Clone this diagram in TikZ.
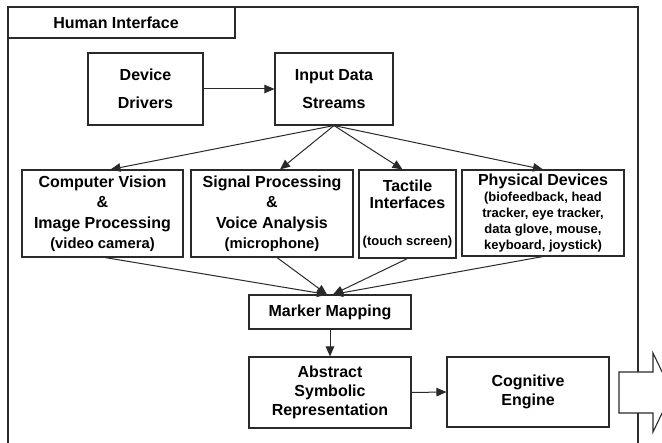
\documentclass[tikz,border=0pt]{standalone}
\usepackage{fontspec}
\setmainfont{Liberation Sans}
\usetikzlibrary{arrows.meta}
\definecolor{ink}{HTML}{2A2A2A}
\newcommand{\subtxt}{\fontsize{13}{16}\selectfont}
\newcommand{\srctxt}{\fontsize{14.8}{16}\selectfont}
\tikzset{
  box/.style={draw=ink, line width=1.1pt, fill=white, inner sep=0pt, align=center,
    font=\bfseries\fontsize{16}{19}\selectfont},
  link/.style={draw=ink, line width=1pt, -{Triangle[length=10pt,width=8.5pt]}},
}
\begin{document}
\begin{tikzpicture}[x=1pt,y=-1pt]
\clip (0,0) rectangle (662,443);
\fill[white] (0,0) rectangle (662,443);
% outer frame of the human interface layer
\draw[ink, line width=1.2pt] (8,460) -- (8,7) -- (638,7) -- (638,460);
\node[box, minimum width=227, minimum height=31] (title) at (121.5,22.5) {\hspace*{-11pt}Human Interface};

% first row
\node[box, minimum width=115, minimum height=72, font=\bfseries\fontsize{16}{28}\selectfont] (drv) at (145.5,89) {Device\\Drivers};
\node[box, minimum width=118, minimum height=72, font=\bfseries\fontsize{16}{28}\selectfont] (ids) at (334,89) {Input Data\\Streams};

% modality boxes
\node[box, minimum width=161, minimum height=87, font=\bfseries\fontsize{16}{20.5}\selectfont] (cv) at (102.5,213.5)
  {Computer Vision\\\&\\Image Processing\\{\srctxt (video camera)}};
\node[box, minimum width=162, minimum height=87, font=\bfseries\fontsize{16}{20.5}\selectfont] (sp) at (272,213.5)
  {Signal Processing\\\&\\Voice Analysis\\{\srctxt (microphone)}};
\node[box, minimum width=97, minimum height=88, font=\bfseries\fontsize{16}{17}\selectfont] (tac) at (407.5,214)
  {Tactile\\Interfaces\\[20pt]{\subtxt (touch screen)}};
\node[box, minimum width=162, minimum height=86, font=\bfseries\fontsize{16}{16}\selectfont] (phy) at (543,213)
  {Physical Devices\\{\subtxt (biofeedback, head}\\{\subtxt tracker, eye tracker,}\\{\subtxt data glove, mouse,}\\{\subtxt keyboard, joystick)}};

% lower chain
\node[box, minimum width=162, minimum height=34] (mm) at (330,312) {Marker Mapping};
\node[box, minimum width=162, minimum height=71] (asr) at (330,392.5) {Abstract\\Symbolic\\Representation};
\node[box, minimum width=162, minimum height=70] (ce) at (528,392) {Cognitive\\Engine};

% connectors
\draw[link] (drv.east) -- (ids.west);
\draw[link] (ids.south) -- ([xshift=8pt]cv.north);
\draw[link] (ids.south) -- ([xshift=8pt]sp.north);
\draw[link] (ids.south) -- ([xshift=-5pt]tac.north);
\draw[link] (ids.south) -- (phy.north);
\draw[link] ([xshift=2.5pt]cv.south) -- ([xshift=-3pt]mm.north);
\draw[link] ([xshift=5pt]sp.south) -- ([xshift=-3pt]mm.north);
\draw[link] (tac.south) -- ([xshift=3pt]mm.north);
\draw[link] (phy.south) -- ([xshift=3pt]mm.north);
\draw[link] (mm.south) -- (asr.north);
\draw[link] (asr.east) -- (ce.west);

% outgoing block arrow
\draw[ink, line width=1.1pt, fill=white, line join=miter]
  (619,372) -- (653,372) -- (653,353) -- (672,392.5) -- (653,432) -- (653,413) -- (619,413) -- cycle;
\end{tikzpicture}
\end{document}
